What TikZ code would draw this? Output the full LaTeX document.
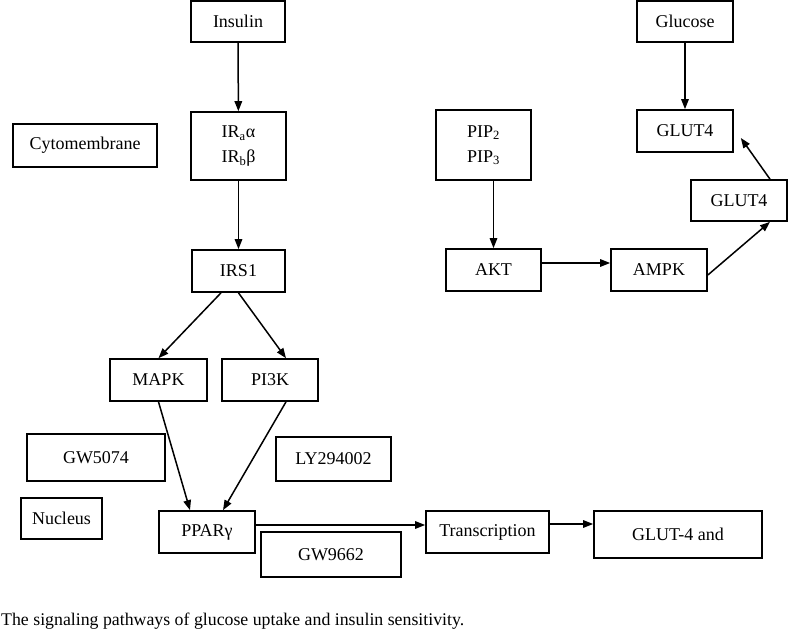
\documentclass[tikz,border=0pt]{standalone}
\usepackage{fontspec}
\setmainfont{Liberation Serif}
\usetikzlibrary{arrows.meta}
\begin{document}
\begin{tikzpicture}[x=1pt,y=-1pt,
  box/.style={draw, line width=1.7pt, inner sep=0pt, font=\fontsize{18}{25}\selectfont, align=center},
  arr/.style={line width=1.5pt, -{Triangle[length=10pt,width=7.5pt]}}]
\useasboundingbox (0,0) rectangle (788,630);
% left column
\node[box, minimum width=94pt, minimum height=41pt] (ins) at (238,21.5) {Insulin};
\node[box, minimum width=95pt, minimum height=68pt] (ir) at (238.5,146) {IR\textsubscript{a}α\\IR\textsubscript{b}β};
\node[box, minimum width=144pt, minimum height=43pt] (cyto) at (85,145.5) {Cytomembrane};
\node[box, minimum width=93pt, minimum height=42pt] (irs) at (238.5,271) {IRS1};
\node[box, minimum width=97pt, minimum height=42pt] (mapk) at (158.5,380) {MAPK};
\node[box, minimum width=96pt, minimum height=42pt] (pi3k) at (270,380) {PI3K};
\node[box, minimum width=138pt, minimum height=47pt] (gw5) at (96,457.5) {GW5074};
\node[box, minimum width=115pt, minimum height=44pt] (ly) at (333.5,459) {LY294002};
\node[box, minimum width=81pt, minimum height=41pt] (nuc) at (61.5,518.5) {Nucleus};
\node[box, minimum width=96pt, minimum height=42pt] (ppar) at (207,532) {PPARγ};
\node[box, minimum width=140pt, minimum height=45pt] (gw9) at (331,554.5) {GW9662};
\node[box, minimum width=123pt, minimum height=42pt] (tr) at (487.5,532) {Transcription};
\node[box, minimum width=168pt, minimum height=47pt] (gl4) at (678,534.5) {GLUT-4 and};
% right column
\node[box, minimum width=96pt, minimum height=41pt] (glc) at (685,21.5) {Glucose};
\node[box, minimum width=96pt, minimum height=42pt] (gta) at (685,131) {GLUT4};
\node[box, minimum width=95pt, minimum height=70pt] (pip) at (483.5,145) {PIP\textsubscript{2}\\PIP\textsubscript{3}};
\node[box, minimum width=96pt, minimum height=41pt] (gtb) at (739,200.5) {GLUT4};
\node[box, minimum width=95pt, minimum height=42pt] (akt) at (493.5,270) {AKT};
\node[box, minimum width=96pt, minimum height=42pt] (ampk) at (659,270) {AMPK};
% caption
\node[anchor=base west, inner sep=0pt, font=\fontsize{17.8}{20}\selectfont] (cap) at (1,625) {The signaling pathways of glucose uptake and insulin sensitivity.};
% arrows
\draw[arr] (ins) -- (ir);
\draw[arr] (ir) -- (irs);
\draw[arr] ([xshift=-17.5pt]irs.south) -- (mapk.north);
\draw[arr] (irs.south) -- ([xshift=16pt]pi3k.north);
\draw[arr] (mapk.south) -- ([xshift=-17pt]ppar.north);
\draw[arr] ([xshift=16pt]pi3k.south) -- ([xshift=16pt]ppar.north);
\draw[arr] ([yshift=7pt]ppar.east) -- ([yshift=7pt]tr.west);
\draw[arr] ([yshift=8pt]tr.east) -- ([yshift=8pt]tr.east -| gl4.west);
\draw[arr] (glc) -- (gta);
\draw[arr] (akt.north |- pip.south) -- (akt.north);
\draw[arr] ([yshift=7pt]akt.east) -- ([yshift=7pt]akt.east -| ampk.west);
\draw[arr] ([yshift=-5pt]ampk.east) -- ([xshift=31pt]gtb.south);
\coordinate (gtaend) at ([xshift=7pt,yshift=-7pt]gta.east);
\draw[arr] ([xshift=31pt]gtb.north) -- (gtaend);
\end{tikzpicture}
\end{document}
